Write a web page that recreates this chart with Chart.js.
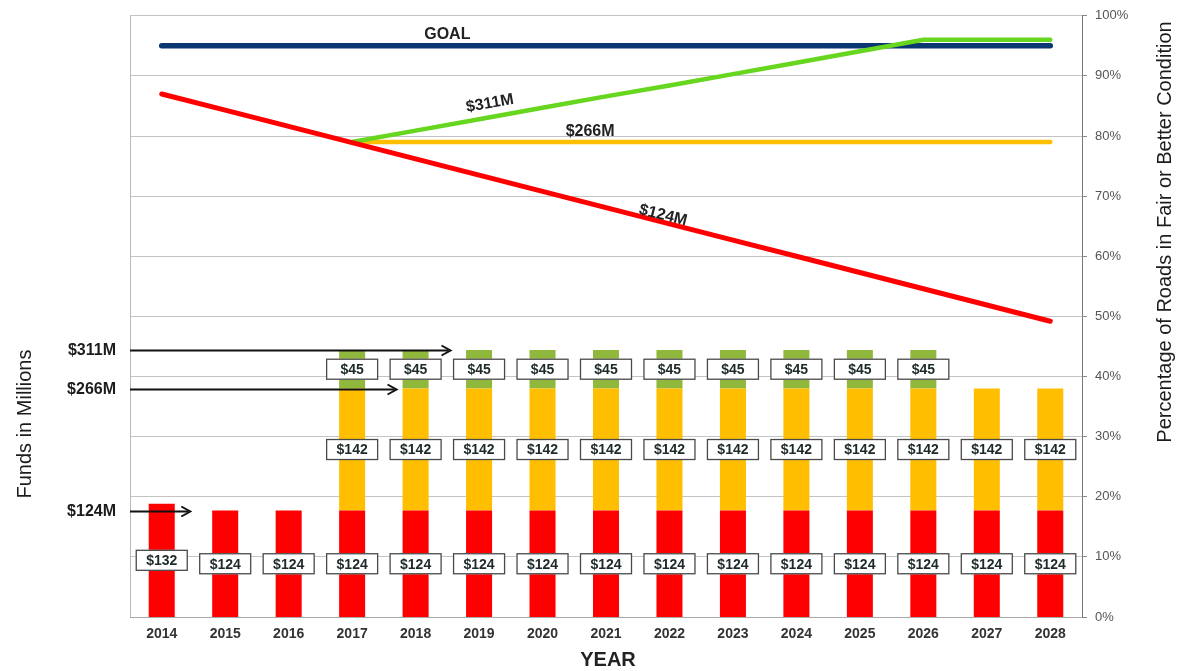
<!DOCTYPE html>
<html>
<head>
<meta charset="utf-8">
<title>Road Funding and Condition Forecast</title>
<script src="https://cdn.jsdelivr.net/npm/chart.js@4/dist/chart.umd.min.js"></script>
<style>
  html, body { margin: 0; padding: 0; background: #ffffff; }
  #wrap { width: 1180px; height: 671px; position: relative; }
</style>
</head>
<body>
<div id="wrap"><canvas id="c" width="1180" height="671"></canvas></div>
<script>
// Years on the horizontal axis
const years = ['2014','2015','2016','2017','2018','2019','2020','2021','2022','2023','2024','2025','2026','2027','2028'];

// Funding, in millions of dollars, stacked per year
const baseFunds  = [132,124,124,124,124,124,124,124,124,124,124,124,124,124,124];
const addedFunds = [null,null,null,142,142,142,142,142,142,142,142,142,142,142,142];
const extraFunds = [null,null,null,45,45,45,45,45,45,45,45,45,45,null,null];

// Percentage of roads in fair or better condition under each funding level
const goalPct = [95,95,95,95,95,95,95,95,95,95,95,95,95,95,95];
const pct124  = [87.0,84.3,81.6,78.9,76.2,73.5,70.8,68.1,65.4,62.7,60.0,57.3,54.6,51.9,49.2];
const pct266  = [null,null,null,79,79,79,79,79,79,79,79,79,79,79,79];
const pct311  = [null,null,null,79,80.9,82.8,84.7,86.6,88.4,90.3,92.2,94.1,96,96,96];

// Funding levels marked with arrows on the left
const levelLabels = ['$311M','$266M','$124M'];
const levelValues = [311,266,124];
const levelArrowEnds = [4.55, 3.7, 0.45]; // category index where each arrow stops

// Labels written along the condition lines: [text, category index, percent, angle in degrees]
const lineNotes = [
  ['GOAL', 4.5, 96.8, 0],
  ['$311M', 5.17, 85.4, -10],
  ['$266M', 6.75, 80.7, 0],
  ['$124M', 7.9, 66.8, 14]
];

const FONT = '"Liberation Sans", Arial, sans-serif';

const overlay = {
  id: 'overlay',
  beforeDatasetsDraw(chart) {
    const { ctx, chartArea: a } = chart;
    ctx.save();
    ctx.strokeStyle = '#b9b9b9';
    ctx.lineWidth = 1;
    ctx.beginPath();
    ctx.moveTo(a.left + 0.5, a.top);
    ctx.lineTo(a.left + 0.5, a.bottom);
    ctx.stroke();
    ctx.restore();
  },
  afterDatasetsDraw(chart) {
    const { ctx } = chart;
    // value boxes on the bar segments
    ctx.save();
    ctx.font = 'bold 14px ' + FONT;
    ctx.textAlign = 'center';
    ctx.textBaseline = 'middle';
    [0, 1, 2].forEach((di) => {
      const meta = chart.getDatasetMeta(di);
      const data = chart.data.datasets[di].data;
      meta.data.forEach((el, i) => {
        if (data[i] == null) return;
        const cy = (el.y + el.base) / 2;
        const w = 52, h = 21;
        ctx.fillStyle = '#ffffff';
        ctx.fillRect(el.x - w / 2, cy - h / 2, w, h);
        ctx.strokeStyle = '#4a4a4a';
        ctx.lineWidth = 1.3;
        ctx.strokeRect(el.x - w / 2 + 0.5, cy - h / 2 + 0.5, w - 1, h - 1);
        ctx.fillStyle = '#1e2a2a';
        ctx.fillText('$' + data[i], el.x, cy + 1);
      });
    });
    ctx.restore();
  },
  afterDraw(chart) {
    const { ctx, chartArea: a, scales } = chart;
    const x = scales.x, y = scales.y, y1 = scales.y1;
    const step = x.getPixelForValue(1) - x.getPixelForValue(0);
    const xAt = (f) => x.getPixelForValue(0) + f * step;

    ctx.save();
    // funding level arrows
    levelValues.forEach((v, i) => {
      const py = Math.round(y.getPixelForValue(v)) + 0.5;
      const x0 = a.left, x1 = xAt(levelArrowEnds[i]);
      ctx.strokeStyle = '#111';
      ctx.lineWidth = 2;
      ctx.beginPath();
      ctx.moveTo(x0, py);
      ctx.lineTo(x1 - 2, py);
      ctx.stroke();
      ctx.beginPath();
      ctx.moveTo(x1 - 9, py - 5);
      ctx.lineTo(x1, py);
      ctx.lineTo(x1 - 9, py + 5);
      ctx.stroke();
      ctx.fillStyle = '#1c1c1c';
      ctx.font = 'bold 16px ' + FONT;
      ctx.textAlign = 'right';
      ctx.textBaseline = 'middle';
      ctx.fillText(levelLabels[i], a.left - 14, py);
    });

    // notes along the condition lines
    ctx.font = 'bold 16px ' + FONT;
    ctx.fillStyle = '#222';
    ctx.textAlign = 'center';
    ctx.textBaseline = 'middle';
    lineNotes.forEach(([t, fi, p, ang]) => {
      ctx.save();
      ctx.translate(xAt(fi), y1.getPixelForValue(p));
      ctx.rotate(ang * Math.PI / 180);
      ctx.fillText(t, 0, 0);
      ctx.restore();
    });

    // axis titles
    ctx.font = '20px ' + FONT;
    ctx.fillStyle = '#1c1c1c';
    ctx.save();
    ctx.translate(25, 424);
    ctx.rotate(-Math.PI / 2);
    ctx.fillText('Funds in Millions', 0, 0);
    ctx.restore();
    ctx.save();
    ctx.translate(1165, 232);
    ctx.rotate(-Math.PI / 2);
    ctx.fillText('Percentage of Roads in Fair or Better Condition', 0, 0);
    ctx.restore();

    ctx.font = 'bold 20px ' + FONT;
    ctx.fillStyle = '#222';
    ctx.fillText('YEAR', 608, 660);
    ctx.restore();
  }
};

const lineStyle = (color, width) => ({
  type: 'line',
  yAxisID: 'y1',
  borderColor: color,
  backgroundColor: color,
  borderWidth: width,
  pointRadius: 0,
  tension: 0,
  fill: false,
  spanGaps: false,
  borderCapStyle: 'round'
});

new Chart(document.getElementById('c'), {
  data: {
    labels: years,
    datasets: [
      { type: 'bar', label: 'Base', data: baseFunds, backgroundColor: '#ff0000', stack: 'f', yAxisID: 'y', order: 10 },
      { type: 'bar', label: 'Added', data: addedFunds, backgroundColor: '#ffbf00', stack: 'f', yAxisID: 'y', order: 10 },
      { type: 'bar', label: 'Extra', data: extraFunds, backgroundColor: '#8fb83c', stack: 'f', yAxisID: 'y', order: 10 },
      Object.assign({ label: 'Goal', data: goalPct, order: 4 }, lineStyle('#0a3672', 5.5)),
      Object.assign({ label: '$266M', data: pct266, order: 3 }, lineStyle('#ffbf00', 4.5)),
      Object.assign({ label: '$311M', data: pct311, order: 2 }, lineStyle('#66d61e', 4.5)),
      Object.assign({ label: '$124M', data: pct124, order: 1 }, lineStyle('#ff0000', 5))
    ]
  },
  options: {
    responsive: false,
    animation: false,
    devicePixelRatio: 1,
    layout: { padding: { left: 130, top: 15, right: 0, bottom: 0 } },
    datasets: { bar: { categoryPercentage: 1, barPercentage: 0.41 } },
    plugins: { legend: { display: false }, tooltip: { enabled: false }, title: { display: false } },
    scales: {
      x: {
        grid: { display: false, drawTicks: false },
        border: { display: true, color: '#aaaaaa', width: 1 },
        ticks: { font: { family: FONT, size: 14, weight: 'bold' }, color: '#333', padding: 9, maxRotation: 0 },
        afterFit(s) { s.height = 54; }
      },
      y: {
        display: false,
        stacked: true,
        min: 0,
        max: 700
      },
      y1: {
        position: 'right',
        min: 0,
        max: 100,
        ticks: { stepSize: 10, callback: (v) => v + '%', font: { family: FONT, size: 13 }, color: '#555', padding: 8 },
        grid: { color: '#c4c4c4', lineWidth: 1, tickLength: 5, tickColor: '#888' },
        border: { display: true, color: '#777', width: 1 },
        afterFit(s) { s.width = 98; }
      }
    }
  },
  plugins: [overlay]
});
</script>
</body>
</html>
